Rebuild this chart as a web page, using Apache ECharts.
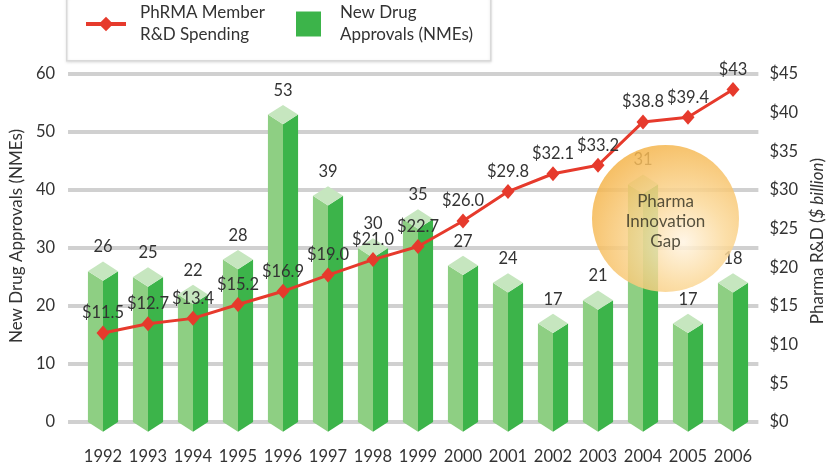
<!DOCTYPE html>
<html>
<head>
<meta charset="utf-8">
<script src="https://cdn.jsdelivr.net/npm/echarts@6/dist/echarts.min.js"></script>
<style>
html,body{margin:0;padding:0;background:#fff;}
#chart{width:834px;height:467px;}
</style>
</head>
<body>
<div id="chart"></div>
<script>
// ---- data ----
var years = ['1992','1993','1994','1995','1996','1997','1998','1999','2000','2001','2002','2003','2004','2005','2006'];
// printed NME counts above the bars
var nmeLabels = [26, 25, 22, 28, 53, 39, 30, 35, 27, 24, 17, 21, 31, 17, 18];
// bar heights as drawn in the reference (2004 and 2006 are drawn taller than their printed labels)
var nmeBarHeights = [26, 25, 22, 28, 53, 39, 30, 35, 27, 24, 17, 21, 41, 17, 24];
// PhRMA member R&D spending, $ billion
var rdSpending = [11.5, 12.7, 13.4, 15.2, 16.9, 19.0, 21.0, 22.7, 26.0, 29.8, 32.1, 33.2, 38.8, 39.4, 43];
var rdLabels = ['$11.5','$12.7','$13.4','$15.2','$16.9','$19.0','$21.0','$22.7','$26.0','$29.8','$32.1','$33.2','$38.8','$39.4','$43'];
var leftTicks = [0, 10, 20, 30, 40, 50, 60];
var rightTicks = [0, 5, 10, 15, 20, 25, 30, 35, 40, 45];
// annotation bubble: placed at year 2004, left-axis value
var gapBubble = { year: '2004', value: 35.1, text: 'Pharma\nInnovation\nGap' };

var FONT = 'Lato, "Noto Sans", sans-serif';
var TXT = '#333333';
var GREEN_L = '#8ecf83', GREEN_D = '#3cb44a', GREEN_T = '#c6e6bf';
var RED = '#e63a2c';

var chart = echarts.init(document.getElementById('chart'), null, {renderer:'canvas'});

var option = {
  animation: false,
  backgroundColor: '#ffffff',
  textStyle: { fontFamily: FONT },
  graphic: [{
    type: 'rect', left: 66, top: -5, z: 0,
    shape: { width: 424, height: 65 },
    style: { fill: '#ffffff', stroke: '#d9d9d9', lineWidth: 1.5,
             shadowBlur: 3, shadowColor: 'rgba(0,0,0,0.12)', shadowOffsetY: 1 }
  }],
  legend: [{
    left: 84, top: 2, padding: 0, z: 5,
    itemWidth: 40, itemHeight: 18,
    data: [{ name: 'PhRMA Member\nR&D Spending', lineStyle: { width: 4, color: RED } }],
    textStyle: { fontFamily: FONT, fontSize: 17, color: TXT, lineHeight: 22, padding: [0,0,0,9] }
  }, {
    left: 296, top: 2, padding: 0, z: 5,
    itemWidth: 25, itemHeight: 25,
    data: [{ name: 'New Drug\nApprovals (NMEs)', icon: 'rect', itemStyle: { color: GREEN_D } }],
    textStyle: { fontFamily: FONT, fontSize: 17, color: TXT, lineHeight: 22, padding: [0,0,0,14] }
  }],
  grid: [
    { left: 80.5, right: 78.5, top: 74, bottom: 45 },
    { left: 63, right: 72, top: 74, bottom: 45 }
  ],
  xAxis: [{
    type: 'category', gridIndex: 0, data: years, boundaryGap: true,
    axisLine: { show: false }, axisTick: { show: false },
    axisLabel: { interval: 0, fontFamily: FONT, fontSize: 16.5, color: TXT, margin: 26 }
  }, {
    type: 'value', gridIndex: 1, show: false, min: 0, max: 1
  }],
  yAxis: [{
    type: 'value', gridIndex: 0, min: leftTicks[0], max: leftTicks[leftTicks.length-1], interval: 10, show: false
  }, {
    type: 'value', gridIndex: 0, min: rightTicks[0], max: rightTicks[rightTicks.length-1], interval: 5, show: false
  }, {
    type: 'value', gridIndex: 1, position: 'left',
    min: leftTicks[0], max: leftTicks[leftTicks.length-1], interval: 10,
    axisLine: { show: false }, axisTick: { show: false },
    splitLine: { show: true, lineStyle: { color: '#d0d0d0', width: 4 } },
    axisLabel: { fontFamily: FONT, fontSize: 16.5, color: TXT, margin: 13, padding: [0,0,12,0] },
    name: 'New Drug Approvals (NMEs)', nameLocation: 'middle', nameRotate: 90, nameGap: 39,
    nameTextStyle: { fontFamily: FONT, fontSize: 17, color: TXT, padding: [0,0,0,24] }
  }, {
    type: 'value', gridIndex: 1, position: 'right',
    min: rightTicks[0], max: rightTicks[rightTicks.length-1], interval: 5,
    axisLine: { show: false }, axisTick: { show: false }, splitLine: { show: false },
    axisLabel: { fontFamily: FONT, fontSize: 16.5, color: TXT, margin: 11, padding: [0,0,12,0],
                 formatter: function (v) { return '$' + v; } },
    name: 'Pharma R&D ({i|$ billion})', nameLocation: 'middle', nameRotate: 90, nameGap: 49,
    nameTextStyle: { fontFamily: FONT, fontSize: 17, color: TXT, padding: [0,0,0,14],
                     rich: { i: { fontFamily: FONT, fontSize: 17, color: TXT, fontStyle: 'italic' } } }
  }],
  series: [{
    name: 'New Drug\nApprovals (NMEs)',
    type: 'custom', xAxisIndex: 0, yAxisIndex: 0, z: 2,
    itemStyle: { color: GREEN_D },
    data: nmeBarHeights.map(function (v, i) { return [i, v]; }),
    renderItem: function (params, api) {
      var i = api.value(0), v = api.value(1);
      var top = api.coord([i, v]);
      var base = api.coord([i, 0]);
      var hw = api.size([1, 0])[0] * 0.335;
      var dh = hw * 0.64;
      var x = top[0], yt = top[1], yb = base[1];
      return {
        type: 'group',
        children: [{
          type: 'polygon',
          shape: { points: [[x - hw, yt], [x, yt + dh], [x, yb + dh], [x - hw, yb]] },
          style: { fill: GREEN_L }
        }, {
          type: 'polygon',
          shape: { points: [[x, yt + dh], [x + hw, yt], [x + hw, yb], [x, yb + dh]] },
          style: { fill: GREEN_D }
        }, {
          type: 'polygon',
          shape: { points: [[x - hw, yt], [x, yt - dh], [x + hw, yt], [x, yt + dh]] },
          style: { fill: GREEN_T }
        }, {
          type: 'text',
          style: { text: String(nmeLabels[params.dataIndex]), x: x, y: yt - dh - 6,
                   align: 'center', verticalAlign: 'bottom',
                   font: '16.5px ' + FONT, fill: TXT }
        }]
      };
    }
  }, {
    name: 'gap',
    type: 'scatter', xAxisIndex: 0, yAxisIndex: 0, z: 3,
    silent: true,
    symbol: 'circle', symbolSize: 147, symbolOffset: [22.5, 0],
    data: [[gapBubble.year, gapBubble.value]],
    itemStyle: {
      opacity: 0.85,
      color: { type: 'radial', x: 0.62, y: 0.66, r: 0.72,
        colorStops: [
          { offset: 0, color: '#fff4e2' },
          { offset: 0.4, color: '#fbd99a' },
          { offset: 1, color: '#f4b246' }
        ] }
    },
    label: { show: true, position: 'inside', offset: [0, 3], formatter: gapBubble.text,
             fontFamily: FONT, fontSize: 17, lineHeight: 20, color: '#3a3626' }
  }, {
    name: 'PhRMA Member\nR&D Spending',
    type: 'line', xAxisIndex: 0, yAxisIndex: 1, z: 4,
    data: rdSpending,
    symbol: 'diamond', symbolSize: [13, 15],
    lineStyle: { color: RED, width: 3 },
    itemStyle: { color: RED },
    label: { show: true, position: 'top', distance: 4,
             formatter: function (p) { return rdLabels[p.dataIndex]; },
             fontFamily: FONT, fontSize: 16.5, color: TXT }
  }]
};
chart.setOption(option);
</script>
</body>
</html>
